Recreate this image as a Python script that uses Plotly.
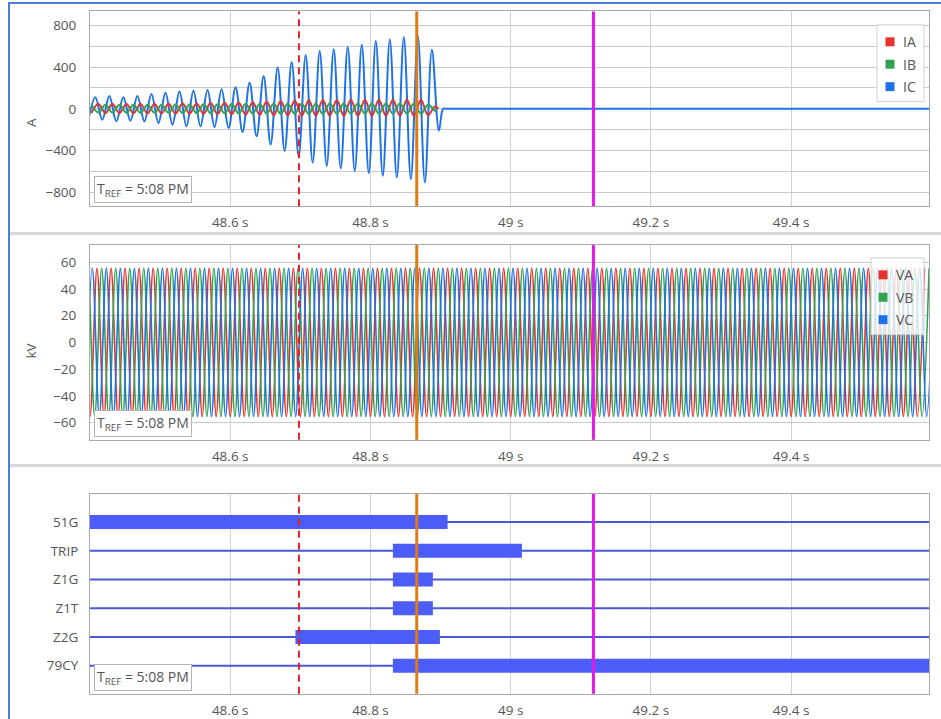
import plotly.graph_objects as go

# ---------------- data ----------------
T_RANGE = [48.400, 49.597]
X_TICKS = [48.6, 48.8, 49.0, 49.2, 49.4]
X_TICK_TEXT = ["48.6 s", "48.8 s", "49 s", "49.2 s", "49.4 s"]
HALF_CYCLE = 0.01  # 50 Hz system

# Current IC (A): alternating extrema, first one a trough
IC_T0 = 48.3976
IC_PEAKS = [111, 124, 111, 124, 143, 155, 165, 174, 181, 187, 206, 250, 314,
            397, 450, 514, 555, 571, 593, 616, 650, 666, 688, 700, 568]
IC_TROUGHS = [-110, -105, -121, -114, -121, -137, -152, -168, -168, -175, -184, -222, -264,
              -343, -406, -454, -517, -549, -571, -597, -619, -644, -660, -676, -707, -209]
IC_END_T = 48.9036

# Current IA (A): alternating extrema, first one a trough
IA_T0 = 48.402
IA_TROUGHS = [-40, -42, -42, -43, -43, -44, -45, -46, -48, -50, -52, -55, -58,
              -62, -64, -65, -66, -66, -67, -67, -67, -68, -68, -68, -60]
IA_PEAKS = [45, 45, 46, 46, 47, 48, 50, 52, 55, 58, 60, 64, 70,
            76, 80, 82, 84, 85, 86, 86, 87, 87, 88, 88, 22]
IA_END_T = 48.897

# Current IB (A): alternating extrema, first one a peak
IB_T0 = 48.402
IB_PEAKS = [38, 38, 39, 39, 40, 40, 41, 42, 43, 44, 45, 46, 47,
            48, 48, 49, 49, 50, 50, 50, 50, 50, 50, 50, 40]
IB_TROUGHS = [-36, -37, -37, -38, -38, -39, -40, -41, -42, -43, -44, -45, -46,
              -47, -47, -48, -48, -48, -48, -48, -48, -48, -48, -48, -20]
IB_END_T = 48.890

I_NAMES = ["IA", "IB", "IC"]

# Voltages (kV): peak amplitude and time of first trough
V_NAMES = ["VA", "VB", "VC"]
V_AMPL = [55.5, 55.5, 55.5]
V_FIRST_TROUGH = [48.4000, 48.4067, 48.4133]
V_CYCLES = 61

# Digital signals
SIGNALS = ["51G", "TRIP", "Z1G", "Z1T", "Z2G", "79CY"]
ON_START = [48.400, 48.832, 48.832, 48.832, 48.693, 48.832]
ON_END = [48.910, 49.016, 48.889, 48.889, 48.899, 49.597]

# Event cursors (s)
CURSOR_T = [48.698, 48.866, 49.118]
CURSOR_COLORS = ["#e3212b", "#e07b14", "#e619e6"]
CURSOR_DASH = ["7px,5px", "solid", "solid"]
CURSOR_WIDTH = [2, 3, 3]

TREF_TEXT = "T<sub>REF</sub> = 5:08 PM"

RED, GREEN, BLUE = "#e8312c", "#2fa352", "#1e72e6"
PHASE_COLORS = [RED, GREEN, BLUE]
GRAY_TXT = "#555555"
FONT = "Open Sans"
TICK_SIZE = 13.5


def interleave(t0, first, second):
    xs, ys = [], []
    t = t0
    n = max(len(first), len(second))
    for i in range(n):
        if i < len(first):
            xs.append(t); ys.append(first[i]); t += HALF_CYCLE
        if i < len(second):
            xs.append(t); ys.append(second[i]); t += HALF_CYCLE
    return xs, ys


fig = go.Figure()
LINE_KW = dict(shape="spline", smoothing=1.0)

# ---------- top panel: currents ----------
x, y = interleave(IC_T0, IC_TROUGHS, IC_PEAKS)
x += [IC_END_T, IC_END_T + 0.004, T_RANGE[1]]
y += [0, 0, 0]
fig.add_trace(go.Scatter(x=x, y=y, mode="lines", name="IC", line=dict(color=BLUE, width=2, **LINE_KW),
                         showlegend=False, xaxis="x", yaxis="y"))
x, y = interleave(IA_T0, IA_TROUGHS, IA_PEAKS)
x += [IA_END_T]; y += [0]
fig.add_trace(go.Scatter(x=x, y=y, mode="lines", name="IA", line=dict(color=RED, width=2, **LINE_KW),
                         showlegend=False, xaxis="x", yaxis="y"))
x, y = interleave(IB_T0, IB_PEAKS, IB_TROUGHS)
x += [IB_END_T]; y += [0]
fig.add_trace(go.Scatter(x=x, y=y, mode="lines", name="IB", line=dict(color=GREEN, width=2, **LINE_KW),
                         showlegend=False, xaxis="x", yaxis="y"))

# ---------- middle panel: voltages ----------
for name, amp, tt, col in zip(V_NAMES, V_AMPL, V_FIRST_TROUGH, PHASE_COLORS):
    x, y = interleave(tt - 2 * HALF_CYCLE, [-amp] * V_CYCLES, [amp] * V_CYCLES)
    fig.add_trace(go.Scatter(x=x, y=y, mode="lines", name=name, line=dict(color=col, width=1.6, **LINE_KW),
                             showlegend=False, xaxis="x2", yaxis="y2"))

# ---------- bottom panel: digital signals ----------
n = len(SIGNALS)
for i, (sig, s, e) in enumerate(zip(SIGNALS, ON_START, ON_END)):
    lvl = n - 1 - i
    fig.add_trace(go.Scatter(x=[T_RANGE[0], T_RANGE[1]], y=[lvl, lvl], mode="lines", name=sig,
                             line=dict(color="#4a58d6", width=2), showlegend=False,
                             xaxis="x3", yaxis="y3"))
    fig.add_trace(go.Scatter(x=[s, e], y=[lvl, lvl], mode="lines", name=sig,
                             line=dict(color="#4b5cf7", width=14), showlegend=False,
                             xaxis="x3", yaxis="y3"))

# ---------- layout ----------
W, H = 941, 719
XD = [90 / W, 929.3 / W]
panels = [  # (top px, bottom px)
    (11.5, 207.0),
    (246.0, 441.7),
    (496.0, 696.7),
]


def ydom(top, bot):
    return [(H - bot) / H, (H - top) / H]


def px(xp):
    return xp / W


def py(yp):
    return (H - yp) / H


axis_common = dict(showline=True, linecolor="#a9a9a9", linewidth=1, mirror=True, zeroline=False,
                   ticks="", tickfont=dict(size=TICK_SIZE, color=GRAY_TXT, family=FONT))

layout = dict(
    width=W, height=H, margin=dict(l=0, r=0, t=0, b=0),
    paper_bgcolor="white", plot_bgcolor="white", showlegend=False,
    font=dict(family=FONT, color=GRAY_TXT),
)
for k, (top, bot) in enumerate(panels, start=1):
    sx = "" if k == 1 else str(k)
    layout["xaxis" + sx] = dict(axis_common, domain=XD, range=T_RANGE, anchor="y" + sx,
                                tickvals=X_TICKS, ticktext=X_TICK_TEXT, showgrid=True,
                                gridcolor="#d2d2d2", ticklabelstandoff=4)
    layout["yaxis" + sx] = dict(axis_common, domain=ydom(top, bot), anchor="x" + sx,
                                ticklabelstandoff=10)

layout["yaxis"].update(range=[-935, 935], tickvals=list(range(-800, 801, 400)),
                       showgrid=True, gridcolor="#c9c9c9",
                       minor=dict(tickvals=list(range(-600, 601, 400)), showgrid=True, gridcolor="#c9c9c9"))
layout["yaxis2"].update(range=[-73, 73], tickvals=list(range(-60, 61, 20)),
                        showgrid=True, gridcolor="#c9c9c9")
layout["yaxis3"].update(range=[-0.98, 5.98], tickvals=list(range(n)),
                        ticktext=list(reversed(SIGNALS)), showgrid=False, ticklabelstandoff=8)

shapes = []
annotations = []
for k in range(1, 4):
    sx = "" if k == 1 else str(k)
    for t, c, d, w in zip(CURSOR_T, CURSOR_COLORS, CURSOR_DASH, CURSOR_WIDTH):
        shapes.append(dict(type="line", xref="x" + sx, yref="y" + sx + " domain", x0=t, x1=t, y0=0, y1=1,
                           line=dict(color=c, width=w, dash=d), layer="above"))

# manual legends (box + square swatch + label)
legend_specs = [
    (I_NAMES, 877, 25, 102, 42, 890, "white"),
    (V_NAMES, 871, 259, 336, 276, 883, "rgba(255,255,255,0.8)"),
]
for names, lx, ltop, lbot, first_y, sq_x, bg in legend_specs:
    shapes.append(dict(type="rect", xref="paper", yref="paper", x0=px(lx), x1=px(924),
                       y0=py(lbot), y1=py(ltop), line=dict(color="#d0d0d0", width=1), fillcolor=bg,
                       layer="above"))
    for j, (nm, col) in enumerate(zip(names, PHASE_COLORS)):
        cy = first_y + j * 22.5
        shapes.append(dict(type="rect", xref="paper", yref="paper", x0=px(sq_x - 4.5), x1=px(sq_x + 4.5),
                           y0=py(cy + 4.5), y1=py(cy - 4.5), line=dict(width=0), fillcolor=col,
                           layer="above"))
        annotations.append(dict(text=nm, xref="paper", yref="paper", x=px(sq_x + 11), y=py(cy),
                                xanchor="left", yanchor="middle", showarrow=False,
                                font=dict(size=14, color=GRAY_TXT, family=FONT)))

# panel separators and outer frame
for ypx in (234.5, 467.5):
    shapes.append(dict(type="line", xref="paper", yref="paper", x0=10 / W, x1=1, y0=py(ypx),
                       y1=py(ypx), line=dict(color="#d9d9d9", width=3)))
shapes.append(dict(type="rect", xref="paper", yref="paper", x0=9 / W, x1=1.01, y0=-0.01, y1=py(3),
                   line=dict(color="#4a7fd6", width=2)))
layout["shapes"] = shapes

for k, (top, bot) in enumerate(panels, start=1):
    annotations.append(dict(text=TREF_TEXT, xref="paper", yref="paper", x=px(94), y=py(bot - 3),
                            xanchor="left", yanchor="bottom", showarrow=False,
                            font=dict(size=14, color=GRAY_TXT, family=FONT),
                            bgcolor="white", bordercolor="#b5b5b5", borderwidth=1, borderpad=2))
annotations.append(dict(text="A", xref="paper", yref="paper", x=px(20), y=py(117), textangle=-90,
                        showarrow=False, font=dict(size=TICK_SIZE, color=GRAY_TXT, family=FONT)))
annotations.append(dict(text="kV", xref="paper", yref="paper", x=px(20), y=py(352), textangle=-90,
                        showarrow=False, font=dict(size=TICK_SIZE, color=GRAY_TXT, family=FONT)))
layout["annotations"] = annotations

fig.update_layout(layout)
fig.write_html("out.html", config={"displayModeBar": False},
               post_script="document.body.style.margin='0';document.body.style.overflow='hidden';")
